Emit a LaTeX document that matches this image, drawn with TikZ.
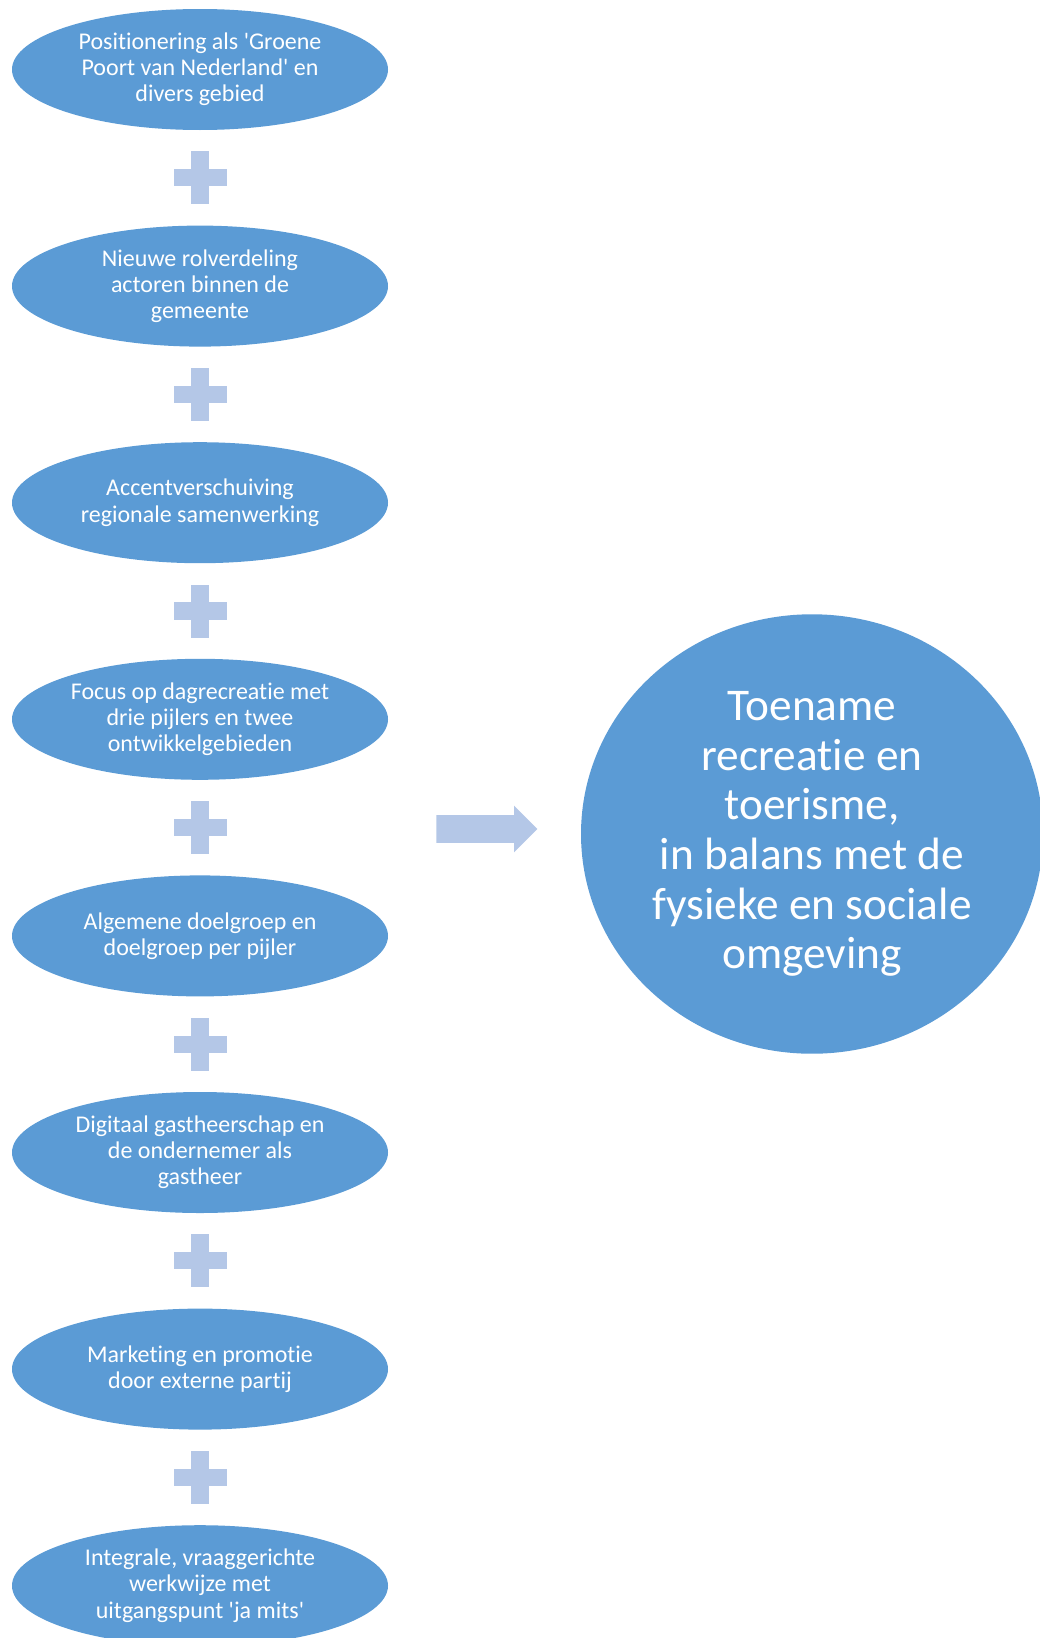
\documentclass[tikz,border=0pt]{standalone}
\usepackage{fontspec}
\setmainfont{Carlito}[Ligatures=NoCommon]
\usetikzlibrary{positioning, shapes.geometric, shapes.arrows}
\definecolor{ellblue}{RGB}{91,155,213}
\definecolor{plusblue}{RGB}{180,199,231}

\begin{document}
\begin{tikzpicture}[x=0.75pt, y=0.75pt, node distance=81.225pt, on grid,
    stap/.style={ellipse, fill=ellblue, text=white, align=center, inner sep=0pt,
      minimum width=282pt, minimum height=90.75pt, font=\fontsize{18}{19.6}\selectfont},
    plush/.style={rectangle, fill=plusblue, inner sep=0pt, minimum width=39.75pt, minimum height=13pt},
    plusv/.style={rectangle, fill=plusblue, inner sep=0pt, minimum width=13pt, minimum height=39.75pt},
    doelcirkel/.style={ellipse, fill=ellblue, text=white, align=center, inner sep=0pt,
      minimum width=346.5pt, minimum height=329.6pt, font=\fontsize{34}{37.2}\selectfont}]
   \useasboundingbox (0,0) rectangle (1039,-1638);

   % linker kolom: de acht onderdelen
   \node[stap] (pos) at (200,-69.5) {Positionering als \textquotesingle Groene\\Poort van Nederland\textquotesingle{} en\\divers gebied};
   \node[plush] (plus1) [below=of pos] {};
   \node[stap] (rol) [below=of plus1] {Nieuwe rolverdeling\\actoren binnen de\\gemeente};
   \node[plush] (plus2) [below=of rol] {};
   \node[stap] (regio) [below=of plus2] {Accentverschuiving\\regionale samenwerking};
   \node[plush] (plus3) [below=of regio] {};
   \node[stap] (focus) [below=of plus3] {Focus op dagrecreatie met\\drie pijlers en twee\\ontwikkelgebieden};
   \node[plush] (plus4) [below=of focus] {};
   \node[stap] (doel) [below=of plus4] {Algemene doelgroep en\\doelgroep per pijler};
   \node[plush] (plus5) [below=of doel] {};
   \node[stap] (digi) [below=of plus5] {Digitaal gastheerschap en\\de ondernemer als\\gastheer};
   \node[plush] (plus6) [below=of digi] {};
   \node[stap] (mark) [below=of plus6] {Marketing en promotie\\door externe partij};
   \node[plush] (plus7) [below=of mark] {};
   \node[stap] (integ) [below=of plus7] {Integrale, vraaggerichte\\werkwijze met\\uitgangspunt \textquotesingle ja mits\textquotesingle};

   % verticale balkjes van de plustekens
   \foreach \i in {1,...,7}
     \node[plusv] at (plus\i) {};

   % pijl en resultaat
   \node[single arrow, fill=plusblue, inner xsep=0pt, inner ysep=10.25pt, minimum height=75.75pt,
     single arrow head extend=7pt] (pijl) at (480,-829) {};
   \node[doelcirkel] (toename) at (812,-834) {Toename\\recreatie en\\toerisme,\\in balans met de\\fysieke en sociale\\omgeving};
\end{tikzpicture}
\end{document}
